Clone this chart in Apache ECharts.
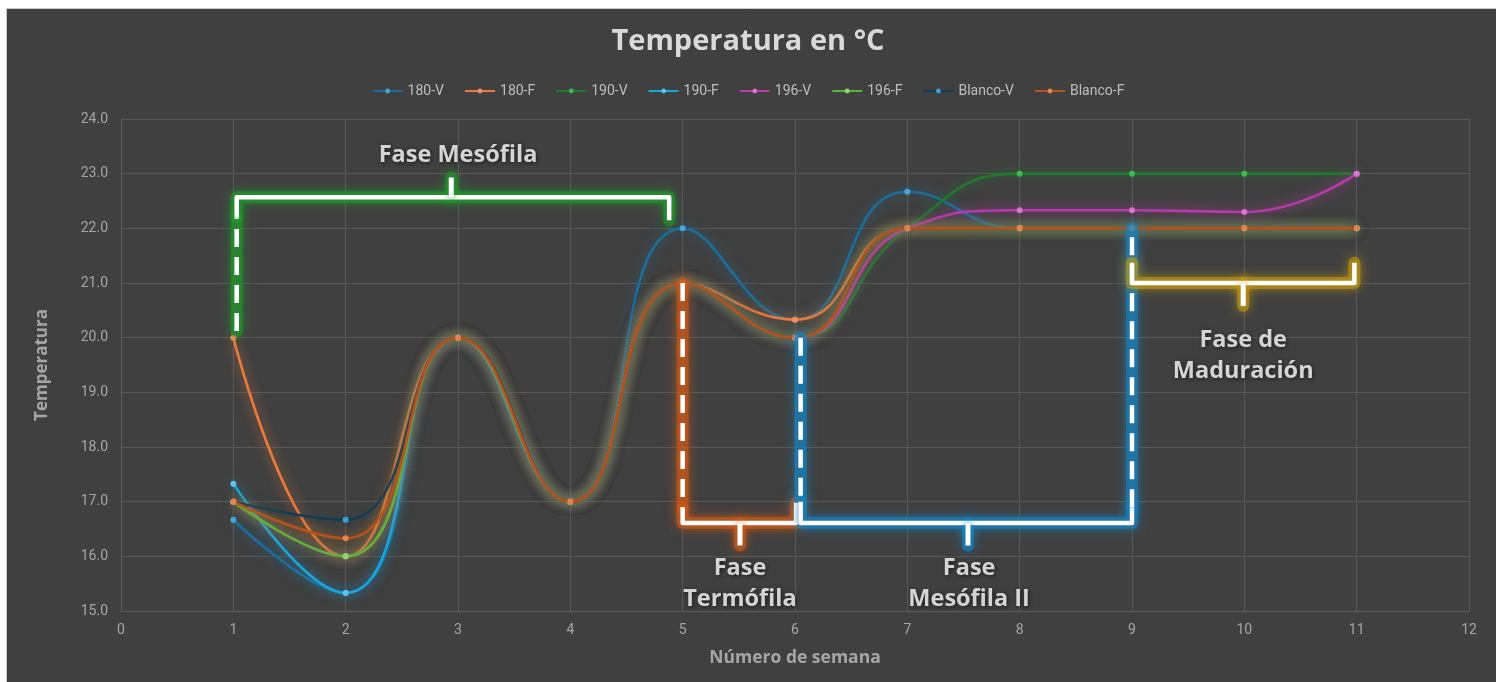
<!DOCTYPE html>
<html>
<head>
<meta charset="utf-8">
<script src="https://cdn.jsdelivr.net/npm/echarts@6/dist/echarts.min.js"></script>
<style>
html,body{margin:0;padding:0;background:#ffffff;}
#chart{width:1496px;height:682px;}
</style>
</head>
<body>
<div id="chart"></div>
<script>
// ---- data ----
const weeks = [1, 2, 3, 4, 5, 6, 7, 8, 9, 10, 11];
const s180V    = [16.67, 15.33, 20, 17, 22, 20.33, 22.67, 22, 22, 22, 22];
const s180F    = [20, 16.0, 20, 17, 21, 20.33, 22, 22, 22, 22, 22];
const s190V    = [17, 16, 20, 17, 21, 20, 22, 23, 23, 23, 23];
const s190F    = [17.33, 15.33, 20, 17, 21, 20, 22, 22, 22, 22, 22];
const s196V    = [17, 16, 20, 17, 21, 20, 22, 22.33, 22.33, 22.3, 23];
const s196F    = [17, 16, 20, 17, 21, 20, 22, 22, 22, 22, 22];
const sBlancoV = [17, 16.67, 20, 17, 21, 20, 22, 22, 22, 22, 22];
const sBlancoF = [17, 16.33, 20, 17, 21, 20, 22, 22, 22, 22, 22];
const seriesNames = ['180-V', '180-F', '190-V', '190-F', '196-V', '196-F', 'Blanco-V', 'Blanco-F'];
const xTicks = [0, 1, 2, 3, 4, 5, 6, 7, 8, 9, 10, 11, 12];
const yTicks = [15, 16, 17, 18, 19, 20, 21, 22, 23, 24];
const phaseLabels = ['Fase Mesófila', 'Fase\nTermófila', 'Fase\nMesófila II', 'Fase de\nMaduración'];

// ---- styles ----
const FONT = '"Open Sans", Lato, sans-serif';
const lineColors   = ['#1b6e9c', '#ec7a3a', '#1f7a2c', '#19a6dd', '#b73aa8', '#5db536', '#0f3b55', '#b9511c'];
const glowColors   = ['#1b6e9cbb', '#ec7a3acc', '#1f7a2cbb', '#19a6ddbb', '#d040c0cc', '#7dc540cc', '#0f3b5566', '#c8801cdd'];
const markerColors = ['#49a6dc', '#f0915c', '#3dbb52', '#5cc3ee', '#e070d4', '#8fd66a', '#3a9fd8', '#e8824a'];
const seriesData = [s180V, s180F, s190V, s190F, s196V, s196F, sBlancoV, sBlancoF];

const dataSeries = seriesNames.map((name, i) => ({
  name: name,
  type: 'line',
  smooth: 0.5,
  data: weeks.map((w, k) => [w, seriesData[i][k]]),
  symbol: 'circle',
  symbolSize: 6,
  z: 3 + i,
  itemStyle: { color: markerColors[i], borderWidth: 0 },
  lineStyle: {
    color: lineColors[i], width: 2.6,
    shadowBlur: 12, shadowColor: glowColors[i]
  },
  emphasis: { disabled: true }
}));

// bracket annotations (data coordinates)
function seg(points, glow, dashed, width) {
  return [{
    type: 'line', silent: true, symbol: 'none', z: 19,
    data: points, animation: false,
    lineStyle: {
      color: glow, width: 12, opacity: 0.6, cap: 'round', join: 'round',
      shadowBlur: 12, shadowColor: glow
    }
  }, {
    type: 'line', silent: true, symbol: 'none', z: 20,
    data: points, animation: false,
    lineStyle: {
      color: '#ffffff', width: width || 4.5, join: 'round',
      type: dashed ? [18, 10] : 'solid',
      shadowBlur: 6, shadowColor: glow
    }
  }];
}
const gGreen = 'rgba(35,150,45,1)';
const gOrange = 'rgba(205,90,25,1)';
const gBlue = 'rgba(25,130,190,1)';
const gYellow = 'rgba(190,150,20,1)';

const bracketSeries = [].concat(
  // Fase Mesófila
  seg([[1.03, 20.12], [1.03, 22.2]], gGreen, true),
  seg([[1.03, 22.2], [1.03, 22.57], [4.88, 22.57], [4.88, 22.15]], gGreen, false),
  seg([[2.94, 22.57], [2.94, 22.93]], gGreen, false, 5),
  // Fase Termófila
  seg([[5.0, 21.0], [5.0, 16.9]], gOrange, true),
  seg([[5.0, 16.9], [5.0, 16.61], [6.01, 16.61], [6.01, 16.98]], gOrange, false),
  seg([[5.51, 16.61], [5.51, 16.2]], gOrange, false, 5),
  // Fase Mesófila II
  seg([[6.05, 20.0], [6.05, 17.0]], gBlue, true),
  seg([[6.05, 17.0], [6.05, 16.61], [9.0, 16.61], [9.0, 16.9]], gBlue, false),
  seg([[9.0, 16.9], [9.0, 22.0]], gBlue, true),
  seg([[7.54, 16.61], [7.54, 16.2]], gBlue, false, 5),
  // Fase de Maduración
  seg([[9.0, 21.37], [9.0, 21.0], [10.98, 21.0], [10.98, 21.37]], gYellow, false),
  seg([[9.99, 21.0], [9.99, 20.58]], gYellow, false, 5)
);

const labelPos = [[3.0, 23.34], [5.51, 15.5], [7.55, 15.5], [9.99, 19.67]];
const labelSeries = {
  type: 'scatter', silent: true, z: 30, symbolSize: 0,
  data: labelPos.map((p, i) => ({ value: p, label: { formatter: phaseLabels[i] } })),
  label: {
    show: true, position: 'inside',
    color: '#ffffff', fontSize: 23.5, fontWeight: 'bold',
    fontFamily: FONT, lineHeight: 31,
    textShadowColor: 'rgba(0,0,0,0.75)', textShadowBlur: 4,
    textShadowOffsetX: 1, textShadowOffsetY: 1
  },
  animation: false
};

const chart = echarts.init(document.getElementById('chart'), null, { renderer: 'canvas' });
chart.setOption({
  backgroundColor: '#ffffff',
  animation: false,
  graphic: [{
    type: 'rect', left: 6, top: 8, z: -10, silent: true,
    shape: { width: 1490, height: 674 },
    style: { fill: '#404040', stroke: '#c9c9c9', lineWidth: 1 }
  }],
  title: {
    text: 'Temperatura en °C', left: 'center', top: 22,
    textStyle: { color: '#d9d9d9', fontSize: 29, fontWeight: 'bold', fontFamily: FONT }
  },
  legend: {
    data: seriesNames, top: 79, left: 'center',
    itemWidth: 30, itemHeight: 6, itemGap: 20,
    textStyle: { color: '#bfbfbf', fontSize: 14, fontFamily: 'Roboto, sans-serif' }
  },
  grid: { left: 121, right: 27, top: 119, bottom: 71, containLabel: false },
  xAxis: {
    type: 'value', min: xTicks[0], max: xTicks[xTicks.length - 1], interval: 1,
    name: 'Número de semana', nameLocation: 'middle', nameGap: 38,
    nameTextStyle: { color: '#a6a6a6', fontSize: 17.5, fontWeight: 'bold', fontFamily: FONT },
    axisLine: { show: true, lineStyle: { color: '#5e5e5e' } },
    axisTick: { show: false },
    axisLabel: { color: '#a6a6a6', fontSize: 14, margin: 12, fontFamily: 'Roboto, sans-serif' },
    splitLine: { show: true, lineStyle: { color: '#5a5a5a', width: 1 } }
  },
  yAxis: {
    type: 'value', min: yTicks[0], max: yTicks[yTicks.length - 1], interval: 1,
    name: 'Temperatura', nameLocation: 'middle', nameGap: 70,
    nameTextStyle: { color: '#a6a6a6', fontSize: 17, fontWeight: 'bold', fontFamily: FONT },
    axisLine: { show: true, lineStyle: { color: '#5e5e5e' } },
    axisTick: { show: false },
    axisLabel: { color: '#a6a6a6', fontSize: 14, margin: 13, fontFamily: 'Roboto, sans-serif',
      formatter: v => v.toFixed(1) },
    splitLine: { show: true, lineStyle: { color: '#5a5a5a', width: 1 } }
  },
  series: dataSeries.concat(bracketSeries, [labelSeries])
});
</script>
</body>
</html>
